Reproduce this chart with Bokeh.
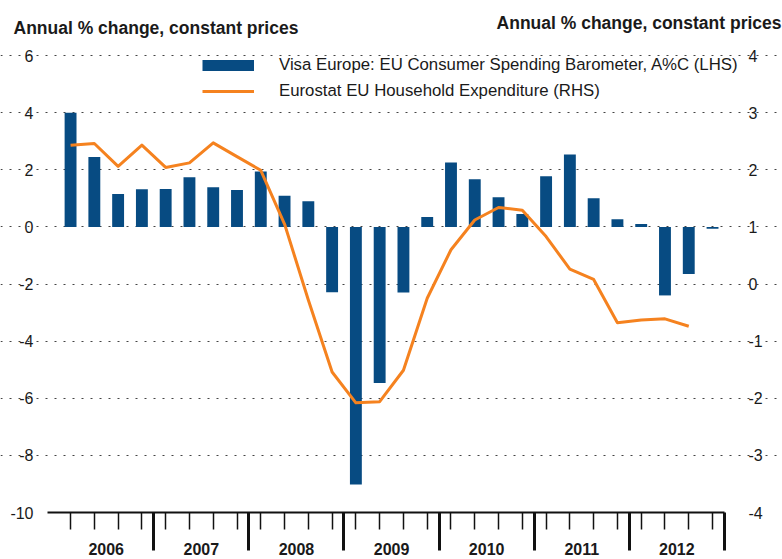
import numpy as np
from bokeh.plotting import figure
from bokeh.models import (Range1d, LinearAxis, FixedTicker, ColumnDataSource,
                          Legend, LegendItem, Label, Grid)
from bokeh.embed import file_html
from bokeh.resources import INLINE

# ---------------- data ----------------
years = ["2006", "2007", "2008", "2009", "2010", "2011", "2012"]
quarters = [f"{y} Q{q}" for y in years for q in range(1, 5)]

# Visa Europe: EU Consumer Spending Barometer, A%C (LHS)
visa = [4.0, 2.45, 1.15, 1.32, 1.33, 1.74, 1.39, 1.29,
        1.94, 1.09, 0.90, -2.29, -9.02, -5.47, -2.30, 0.35,
        2.25, 1.67, 1.04, 0.45, 1.77, 2.53, 1.00, 0.27,
        0.10, -2.40, -1.65, -0.07]

# Eurostat EU Household Expenditure (RHS)
eurostat = [2.43, 2.46, 2.06, 2.43, 2.04, 2.12, 2.47, 2.23,
            1.99, 1.05, -0.28, -1.54, -2.08, -2.06, -1.51, -0.25,
            0.60, 1.12, 1.34, 1.29, 0.83, 0.26, 0.08, -0.68,
            -0.63, -0.61, -0.74]

lhs_ticks = [-10, -8, -6, -4, -2, 0, 2, 4, 6]
rhs_ticks = [-4, -3, -2, -1, 0, 1, 2, 3, 4]
title_text = "Annual % change, constant prices"
label_visa = "Visa Europe: EU Consumer Spending Barometer, A%C (LHS)"
label_euro = "Eurostat EU Household Expenditure (RHS)"

# ---------------- styles / layout ----------------
BLUE = "#074b82"
ORANGE = "#f5821f"
TXT = "#1a1a1a"
AX = "#111111"
FONT = "Liberation Sans"

W, H = 782, 559
PL, PR, PT, PB = 47, 737, 55, 512        # plot area (px)
X0, X1 = -0.97, 28.05                     # x extent of plot area (quarter index)
Y0, Y1 = lhs_ticks[0], lhs_ticks[-1]
R0, R1 = rhs_ticks[0], rhs_ticks[-1]

ux = (X1 - X0) / (PR - PL)
uy = (Y1 - Y0) / (PB - PT)
ur = (R1 - R0) / (PB - PT)

n = len(quarters)
xq = np.arange(n)
bars = ColumnDataSource(dict(x=xq, top=visa, q=quarters))
line_src = ColumnDataSource(dict(x=xq[:len(eurostat)], y=eurostat))

p = figure(width=W, height=H, output_backend="svg", toolbar_location=None,
           title=None, x_axis_type=None, y_axis_type=None,
           x_range=Range1d(X0 - PL * ux, X1 + (W - PR) * ux),
           y_range=Range1d(Y0 - (H - PB) * uy, Y1 + PT * uy),
           min_border=0)
p.outline_line_color = None
p.background_fill_color = "white"
p.border_fill_color = "white"
p.extra_y_ranges = {"rhs": Range1d(R0 - (H - PB) * ur, R1 + PT * ur)}

# dotted horizontal grid
p.xgrid.visible = False
p.ygrid.visible = False
grid = Grid(dimension=1, ticker=FixedTicker(ticks=lhs_ticks[1:]),
            bounds=(X0, X1), grid_line_color="#444444",
            grid_line_dash="2 7", grid_line_width=1.2)
p.add_layout(grid)


def style_value_axis(ax, standoff):
    ax.axis_line_color = None
    ax.major_tick_line_color = None
    ax.major_tick_out = 0
    ax.major_tick_in = 0
    ax.minor_tick_line_color = None
    ax.major_label_standoff = standoff
    ax.major_label_text_font = FONT
    ax.major_label_text_font_size = "16px"
    ax.major_label_text_color = TXT


# left axis (LHS)
la = LinearAxis(ticker=FixedTicker(ticks=lhs_ticks), fixed_location=X0,
                major_label_overrides={t: str(t) for t in lhs_ticks})
style_value_axis(la, 14)
p.add_layout(la, "left")

# right axis (RHS)
ra = LinearAxis(y_range_name="rhs", ticker=FixedTicker(ticks=rhs_ticks),
                fixed_location=X1,
                major_label_overrides={t: str(t) for t in rhs_ticks})
style_value_axis(ra, 11)
p.add_layout(ra, "right")

# bottom axis: year labels + short quarter ticks
year_centres = [4 * k + 1.5 for k in range(len(years))]
year_bounds = [4 * k + 3.5 for k in range(len(years))]
qa = LinearAxis(ticker=FixedTicker(ticks=year_centres, minor_ticks=list(xq)),
                fixed_location=Y0, bounds=(X0, year_bounds[-1]),
                major_label_overrides=dict(zip(year_centres, years)))
qa.axis_line_color = AX
qa.axis_line_width = 2
qa.major_tick_line_color = None
qa.major_tick_out = 0
qa.major_tick_in = 0
qa.minor_tick_line_color = AX
qa.minor_tick_line_width = 1.5
qa.minor_tick_out = 17
qa.minor_tick_in = 0
qa.major_label_standoff = 13
qa.major_label_text_font = FONT
qa.major_label_text_font_style = "bold"
qa.major_label_text_font_size = "16px"
qa.major_label_text_color = TXT
p.add_layout(qa, "below")

# bottom axis: long ticks at year boundaries
ba = LinearAxis(ticker=FixedTicker(ticks=[], minor_ticks=year_bounds),
                fixed_location=Y0, bounds=(X0, year_bounds[-1]))
ba.axis_line_color = None
ba.major_tick_line_color = None
ba.minor_tick_line_color = AX
ba.minor_tick_line_width = 3
ba.minor_tick_out = 38
ba.minor_tick_in = 0
p.add_layout(ba, "below")

# data
r_bar = p.vbar(x="x", top="top", bottom=0, width=0.5, source=bars,
               fill_color=BLUE, line_color=None)
r_line = p.line(x="x", y="y", source=line_src, y_range_name="rhs",
                line_color=ORANGE, line_width=3, line_join="round")

# legend (bar swatch drawn by a thick line proxy that plots nothing)
proxy = p.line(x=[0, 1], y=[np.nan, np.nan], line_color=BLUE,
               line_width=11, line_cap="butt")
legend = Legend(items=[LegendItem(label=label_visa, renderers=[proxy]),
                       LegendItem(label=label_euro, renderers=[r_line])],
                location=(202, 458), orientation="vertical",
                border_line_color=None, background_fill_alpha=0,
                padding=0, margin=0, spacing=6,
                glyph_width=52, glyph_height=12, label_standoff=25,
                label_text_font=FONT, label_text_font_size="16.8px",
                label_text_color=TXT)
p.add_layout(legend)

# axis titles
p.add_layout(Label(x=13, y=H - 27, x_units="screen", y_units="screen",
                   text=title_text, text_align="left", text_baseline="middle",
                   text_font=FONT, text_font_style="bold",
                   text_font_size="17.5px", text_color=TXT))
p.add_layout(Label(x=W - 1, y=H - 22, x_units="screen", y_units="screen",
                   text=title_text, text_align="right", text_baseline="middle",
                   text_font=FONT, text_font_style="bold",
                   text_font_size="17.5px", text_color=TXT))

open("out.html", "w").write(file_html(p, INLINE))
